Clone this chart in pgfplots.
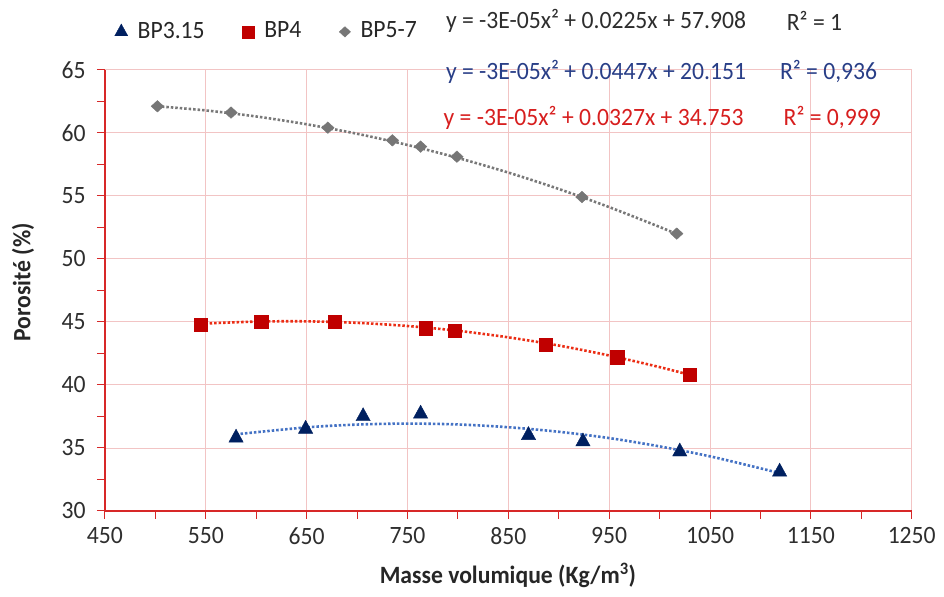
\documentclass[border=0pt]{standalone}
\usepackage{pgfplots}
\pgfplotsset{compat=1.18}
\usepackage{fontspec}
\setmainfont{Carlito}[FakeStretch=0.95]
\definecolor{navy}{RGB}{0,32,96}
\definecolor{darkred}{RGB}{192,0,0}
\definecolor{grayd}{RGB}{118,118,118}
\definecolor{trblue}{RGB}{68,114,196}
\definecolor{trred}{RGB}{235,45,20}
\definecolor{trgray}{RGB}{120,120,120}
\definecolor{axred}{RGB}{215,40,40}
\definecolor{gridpink}{RGB}{242,196,196}
\definecolor{eqblue}{RGB}{40,62,135}
\definecolor{eqred}{RGB}{215,30,30}
\definecolor{eqblack}{RGB}{45,45,45}
\begin{document}
\fontsize{25}{28}\selectfont
\begin{tikzpicture}
\begin{axis}[
  scale only axis, width=810pt, height=443pt,
  xmin=450, xmax=1250, ymin=30, ymax=65,
  xtick={450,550,...,1250}, ytick={30,35,...,65},
  minor x tick num=1, minor y tick num=1,
  axis x line=bottom, axis y line=left,
  axis line style={-, draw=axred, line width=1.2pt},
  tick align=outside, major tick length=8pt, minor tick length=8pt,
  every tick/.style={axred, line width=1pt},
  grid=major, major grid style={gridpink, line width=0.8pt},
  /pgf/number format/assume math mode=true,
  /pgf/number format/1000 sep={},
  ticklabel style={font=\fontsize{25}{28}\selectfont, text=black!82},
  yticklabel style={xshift=-3pt},
  xlabel={\textbf{Masse volumique (Kg/m\textsuperscript{3})}},
  ylabel={\textbf{Porosité (\%)}},
  xlabel style={at={(axis description cs:0.4995,-0.1467)}, anchor=center, text=black!85},
  ylabel style={at={(axis description cs:-0.1017,0.518)}, anchor=center, text=black!85},
  clip=false,
  legend columns=3,
  legend image code/.code={\draw[#1, /tikz/every mark/.append style={scale=0.9}] plot coordinates {(0pt,0pt)};},
  legend style={at={(rel axis cs:0.012,1.0858)}, anchor=west, draw=none, fill=none, inner sep=0pt,
    font=\fontsize{25}{28}\selectfont, text=black!85,
    /tikz/every odd column/.append style={column sep=8pt},
    /tikz/every even column/.append style={column sep=36pt}},
]
% trendlines
\addplot[trgray, line width=2.6pt, dash pattern=on 2.5pt off 2pt, smooth, forget plot] coordinates {
 (502,62.10) (550,61.77) (600,61.29) (650,60.67) (700,59.92) (750,59.03) (800,58.00)
 (850,56.84) (900,55.54) (950,54.10) (1000,52.53) (1017,51.96)};
\addplot[trred, line width=2.6pt, dash pattern=on 2.5pt off 2pt, smooth, forget plot] coordinates {
 (545,44.85) (600,45.02) (650,45.04) (700,44.92) (750,44.67) (800,44.29) (850,43.77)
 (900,43.12) (950,42.33) (1000,41.41) (1030,40.79)};
\addplot[trblue, line width=2.6pt, dash pattern=on 2.5pt off 2pt, smooth, forget plot] coordinates {
 (580,36.08) (650,36.63) (700,36.85) (750,36.93) (800,36.86) (850,36.64) (900,36.28)
 (950,35.78) (1000,35.12) (1050,34.33) (1100,33.38) (1119,33.00)};
% data
\addplot[only marks, mark=triangle*, mark size=8.3pt, navy, mark options={fill=navy, draw=navy, yscale=1.05}] coordinates {
 (580,35.8) (649,36.5) (706,37.5) (763,37.7) (870,36.0) (924,35.5) (1020,34.7) (1119,33.1)};
\addlegendentry{BP3.15}
\addplot[only marks, mark=square*, mark size=6.6pt, darkred, mark options={fill=darkred, draw=darkred}] coordinates {
 (545,44.8) (605,45.0) (678,45.0) (768,44.5) (797,44.3) (887,43.2) (958,42.2) (1030,40.8)};
\addlegendentry{BP4}
\addplot[only marks, mark=diamond*, mark size=5.8pt, grayd, mark options={fill=grayd, draw=grayd, xscale=1.45}] coordinates {
 (502,62.1) (575,61.6) (671,60.4) (735,59.4) (763,58.9) (799,58.1) (923,54.9) (1017,52.0)};
\addlegendentry{BP5-7}
% equations
\node[anchor=west, text=eqblack, inner sep=0pt] at (rel axis cs:0.4225,1.111) {y = -3E-05x² + 0.0225x + 57.908};
\node[anchor=west, text=eqblack, inner sep=0pt] at (rel axis cs:0.845,1.111) {R² = 1};
\node[anchor=west, text=eqblue, inner sep=0pt] at (rel axis cs:0.4225,0.9955) {y = -3E-05x² + 0.0447x + 20.151};
\node[anchor=west, text=eqblue, inner sep=0pt] at (rel axis cs:0.8365,0.9955) {R² = 0,936};
\node[anchor=west, text=eqred, inner sep=0pt] at (rel axis cs:0.4195,0.8916) {y = -3E-05x² + 0.0327x + 34.753};
\node[anchor=west, text=eqred, inner sep=0pt] at (rel axis cs:0.841,0.8916) {R² = 0,999};
\path (rel axis cs:-0.1301,-0.1851) rectangle (rel axis cs:1.0353,1.1580);
\end{axis}
\end{tikzpicture}
\end{document}
